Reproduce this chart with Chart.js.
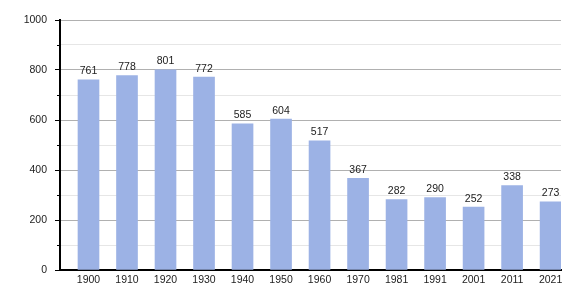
<!DOCTYPE html>
<html>
<head>
<meta charset="utf-8">
<script src="https://cdn.jsdelivr.net/npm/chart.js@4/dist/chart.umd.min.js"></script>
<style>
html,body{margin:0;padding:0;background:#fff;}
#wrap{width:580px;height:300px;}
</style>
</head>
<body>
<div id="wrap"><canvas id="c" width="580" height="300"></canvas></div>
<script>
const years = ["1900","1910","1920","1930","1940","1950","1960","1970","1981","1991","2001","2011","2021"];
const population = [761,778,801,772,585,604,517,367,282,290,252,338,273];
const yTicksMajor = [0,200,400,600,800,1000];

const points = population.map((v,i)=>({x:i,y:v}));
const FONT = '"Liberation Sans", Arial, sans-serif';

const labelPlugin = {
  id:'valueLabels',
  afterDatasetsDraw(chart){
    const ctx = chart.ctx;
    const meta = chart.getDatasetMeta(0);
    ctx.save();
    ctx.font = '10.5px ' + FONT;
    ctx.fillStyle = '#222';
    ctx.textAlign = 'center';
    ctx.textBaseline = 'bottom';
    meta.data.forEach((el,i)=>{
      ctx.fillText(String(population[i]), el.x, el.y - 3);
    });
    ctx.restore();
  }
};

const minorTickPlugin = {
  id:'minorTicks',
  afterDraw(chart){
    const y = chart.scales.y;
    const ctx = chart.ctx;
    ctx.save();
    ctx.strokeStyle = '#000';
    ctx.lineWidth = 1;
    y.ticks.forEach(t=>{
      if (t.value % 200 !== 0){
        const py = Math.round(y.getPixelForValue(t.value)) + 0.5;
        ctx.beginPath();
        ctx.moveTo(chart.chartArea.left - 3, py);
        ctx.lineTo(chart.chartArea.left, py);
        ctx.stroke();
      }
    });
    ctx.restore();
  }
};

new Chart(document.getElementById('c'), {
  type:'bar',
  data:{
    datasets:[{
      data: points,
      backgroundColor:'#9cb2e5',
      borderWidth:0,
      barThickness:21
    }]
  },
  options:{
    responsive:false,
    animation:false,
    devicePixelRatio:1,
    layout:{padding:{top:20,right:19,left:0,bottom:0}},
    plugins:{legend:{display:false},tooltip:{enabled:false}},
    scales:{
      x:{
        type:'linear',
        offset:false,
        min:-0.74,
        max:12.27,
        afterBuildTicks(scale){ scale.ticks = years.map((_,i)=>({value:i})); },
        afterFit(scale){ scale.height = 30; },
        grid:{display:false, drawTicks:false},
        border:{display:true,color:'#000',width:2},
        ticks:{
          autoSkip:false,
          maxRotation:0,
          padding:4,
          color:'#222',
          font:{family:FONT,size:10.5},
          callback:(v)=>years[v] ?? ''
        }
      },
      y:{
        min:0,
        max:1000,
        afterFit(scale){ scale.width = 60; },
        grid:{
          color:(c)=> (c.tick && c.tick.value % 200 === 0) ? '#b0b0b0' : '#e6e6e6',
          tickColor:(c)=> (c.tick && c.tick.value % 200 === 0) ? '#000' : 'rgba(0,0,0,0)',
          tickLength:5,
          drawTicks:true
        },
        border:{display:true,color:'#000',width:2},
        ticks:{
          stepSize:100,
          padding:8,
          color:'#222',
          font:{family:FONT,size:10.5},
          callback:(v)=> (v % 200 === 0) ? String(v) : ''
        }
      }
    }
  },
  plugins:[labelPlugin, minorTickPlugin]
});
</script>
</body>
</html>
